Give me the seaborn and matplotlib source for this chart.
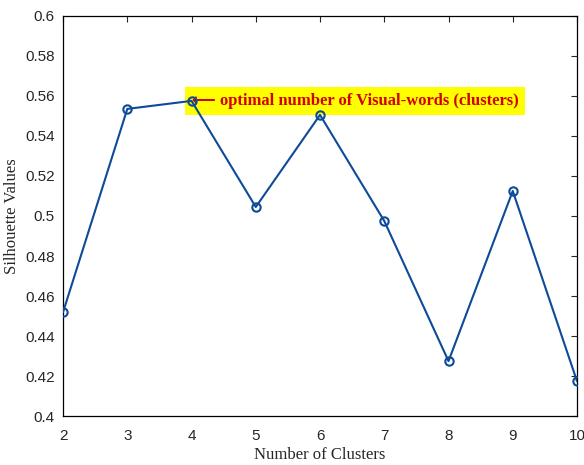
import pandas as pd
import matplotlib
matplotlib.use("Agg")
import matplotlib.pyplot as plt
import seaborn as sns

# data
clusters = [2, 3, 4, 5, 6, 7, 8, 9, 10]
silhouette = [0.452, 0.5535, 0.5575, 0.5045, 0.5505, 0.4975, 0.4275, 0.5125, 0.4175]
yticks = [0.4, 0.42, 0.44, 0.46, 0.48, 0.5, 0.52, 0.54, 0.56, 0.58, 0.6]
ytick_labels = ["0.4", "0.42", "0.44", "0.46", "0.48", "0.5", "0.52", "0.54", "0.56", "0.58", "0.6"]

df = pd.DataFrame({"k": clusters, "s": silhouette})

sns.set_style("white")
plt.rcParams["font.family"] = ["Liberation Sans", "DejaVu Sans"]

fig = plt.figure(figsize=(5.84, 4.65), dpi=100)
ax = fig.add_axes([0.108, 0.105, 0.880, 0.861])

line_color = "#0d4a98"
sns.lineplot(data=df, x="k", y="s", ax=ax, color=line_color, linewidth=1.5,
             marker="o", markersize=6, markerfacecolor="none",
             markeredgecolor=line_color, markeredgewidth=1.5, zorder=3)

ax.set_xlim(2, 10)
ax.set_ylim(0.4, 0.6)
ax.set_xticks(clusters)
ax.set_yticks(yticks)
ax.set_yticklabels(ytick_labels)
ax.tick_params(direction="in", length=4, width=0.8, top=True, right=True,
               labelsize=11, colors="#262626")
ax.tick_params(axis="x", pad=9)
ax.tick_params(axis="y", pad=6)
for sp in ax.spines.values():
    sp.set_color("black")
    sp.set_linewidth(0.9)

serif = ["Liberation Serif", "DejaVu Serif"]
ax.set_xlabel("Number of Clusters", family=serif, fontsize=12, color="#262626", labelpad=3)
ax.set_ylabel("Silhouette Values", family=serif, fontsize=12, color="#262626")

ax.text(clusters[2], silhouette[2], "\u27f5 optimal number of Visual-words (clusters)",
        family=["Liberation Serif", "DejaVu Sans"], fontsize=12, fontweight="bold",
        color="#d40000", va="center", ha="left", zorder=2,
        bbox=dict(facecolor="yellow", edgecolor="none", pad=4.5))

fig.savefig("out.png", dpi=100)
